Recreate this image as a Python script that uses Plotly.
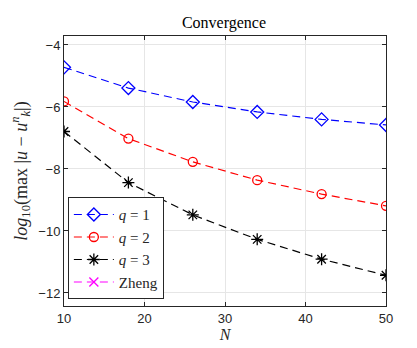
import plotly.graph_objects as go

# data
N = [10, 18, 26, 34, 42, 50]
err_q1 = [-4.72, -5.39, -5.84, -6.16, -6.40, -6.58]
err_q2 = [-5.82, -7.02, -7.77, -8.36, -8.81, -9.19]
err_q3 = [-6.79, -8.44, -9.48, -10.27, -10.91, -11.43]
zheng_N = [None]
zheng_err = [None]

serif = "Liberation Serif, DejaVu Serif, serif"
sans = "Liberation Sans, Arial, sans-serif"
dash = "8px,5px"

fig = go.Figure()

fig.add_trace(go.Scatter(
    x=N, y=err_q1, mode="lines+markers", name="<i>q</i> = 1",
    line=dict(color="#0000ff", width=1.2, dash=dash),
    marker=dict(symbol="diamond-open", size=10, color="#0000ff", line=dict(width=1.3)),
))
fig.add_trace(go.Scatter(
    x=N, y=err_q2, mode="lines+markers", name="<i>q</i> = 2",
    line=dict(color="#ff0000", width=1.2, dash=dash),
    marker=dict(symbol="circle-open", size=9, color="#ff0000", line=dict(width=1.3)),
))
fig.add_trace(go.Scatter(
    x=N, y=err_q3, mode="lines+markers", name="<i>q</i> = 3",
    line=dict(color="#000000", width=1.2, dash=dash),
    marker=dict(symbol="asterisk-open", size=10, color="#000000", line=dict(width=1.3)),
))
fig.add_trace(go.Scatter(
    x=zheng_N, y=zheng_err, mode="lines+markers", name="Zheng",
    line=dict(color="#ff00ff", width=1.2, dash=dash),
    marker=dict(symbol="x-thin-open", size=9, color="#ff00ff", line=dict(width=1.3)),
))

fig.update_layout(
    width=417, height=348,
    margin=dict(l=54, r=39, t=28, b=50),
    paper_bgcolor="white", plot_bgcolor="white",
    showlegend=True,
    title=dict(text="Convergence", x=216 / 417, xanchor="center", y=1 - 14 / 348, yanchor="middle",
               font=dict(family=serif, size=16, color="#000000")),
    legend=dict(x=0.012, y=0.025, xanchor="left", yanchor="bottom",
                bgcolor="white", bordercolor="#262626", borderwidth=1,
                font=dict(family=serif, size=15, color="#262626"),
                itemwidth=40, tracegroupgap=0),
)

fig.update_xaxes(
    range=[10, 50], tickvals=[10, 20, 30, 40, 50],
    showgrid=True, gridcolor="#e6e6e6", gridwidth=1, zeroline=False,
    showline=True, linecolor="#262626", linewidth=1, mirror="ticks",
    ticks="inside", ticklen=4, tickcolor="#262626",
    tickfont=dict(family=sans, size=13, color="#262626"),
    title=dict(text="<i>N</i>", font=dict(family=serif, size=16, color="#262626"), standoff=2),
)
fig.update_yaxes(
    range=[-12.42, -3.71], tickvals=[-12, -10, -8, -6, -4],
    showgrid=True, gridcolor="#e6e6e6", gridwidth=1, zeroline=False,
    showline=True, linecolor="#262626", linewidth=1, mirror="ticks",
    ticks="inside", ticklen=4, tickcolor="#262626",
    tickfont=dict(family=sans, size=13, color="#262626"),
    title=dict(text="<i>log</i><sub>10</sub>(max |<i>u</i> \u2212 <i>u</i><sup><i>n</i></sup><sub><i>k</i></sub>|)",
               font=dict(family=serif, size=18, color="#262626"), standoff=6),
)

fig.write_html("out.html")
